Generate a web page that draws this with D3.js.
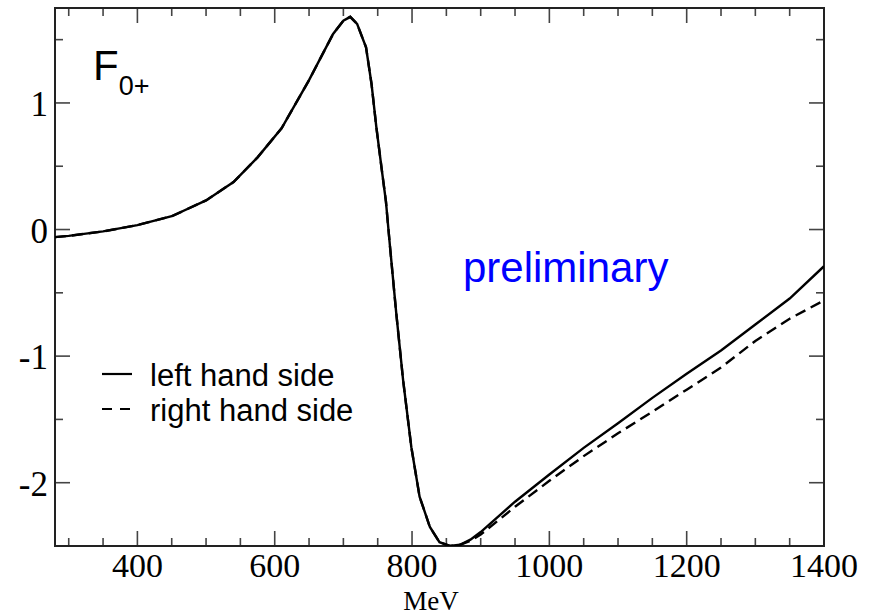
<!DOCTYPE html>
<html>
<head>
<meta charset="utf-8">
<script src="https://cdnjs.cloudflare.com/ajax/libs/d3/7.8.5/d3.min.js"></script>
<style>
    body { margin: 0; background: #fff; }
    svg { display: block; }
</style>
</head>
<body>
<div id="chart"></div>
<script>
// energies (MeV) where the curves are sampled
var energy = [280, 300, 350, 400, 450, 500, 540, 575, 610, 650, 685, 700, 710, 720, 733, 741, 748, 756, 762, 768,
    777, 787, 799, 811, 826, 840, 855, 870, 885, 900, 950, 1000, 1050, 1100, 1150, 1200, 1250, 1300, 1350, 1400];

// left hand side of the relation
var leftSide = [-0.06, -0.05, -0.015, 0.035, 0.105, 0.23, 0.375, 0.57, 0.8, 1.18, 1.545, 1.65, 1.68, 1.625, 1.44, 1.15, 0.81, 0.47, 0.22, -0.14,
    -0.66, -1.19, -1.72, -2.11, -2.35, -2.47, -2.5, -2.49, -2.45, -2.39, -2.15, -1.935, -1.725, -1.53, -1.33, -1.14, -0.955, -0.75, -0.545, -0.29];

// right hand side of the relation
var rightSide = [-0.06, -0.05, -0.015, 0.035, 0.105, 0.23, 0.375, 0.57, 0.8, 1.18, 1.545, 1.65, 1.68, 1.625, 1.44, 1.15, 0.81, 0.47, 0.22, -0.14,
    -0.66, -1.19, -1.72, -2.11, -2.35, -2.47, -2.5, -2.49, -2.46, -2.41, -2.19, -1.985, -1.79, -1.61, -1.44, -1.265, -1.09, -0.88, -0.705, -0.56];

var xTicks = [400, 600, 800, 1000, 1200, 1400];
var yTicks = [-2, -1, 0, 1];
var legendLabels = ["left hand side", "right hand side"];

///////////////////////////////////////////////////////////////////////////
//////////////////////////// Set up the svg ///////////////////////////////
///////////////////////////////////////////////////////////////////////////

var margin = {top: 8, right: 53, bottom: 70, left: 55};
var width = 877 - margin.left - margin.right,
    height = 616 - margin.top - margin.bottom;

var svg = d3.select("#chart")
    .append("svg")
    .attr("width", 877)
    .attr("height", 616)
    .append("g")
    .attr("transform", "translate(" + margin.left + "," + margin.top + ")");

var x = d3.scaleLinear().domain([280, 1400]).range([0, width]);
var y = d3.scaleLinear().domain([-2.5, 1.75]).range([height, 0]);

svg.append("defs").append("clipPath")
    .attr("id", "plotClip")
    .append("rect")
    .attr("width", width)
    .attr("height", height);

///////////////////////////////////////////////////////////////////////////
///////////////////////////////// Axes ////////////////////////////////////
///////////////////////////////////////////////////////////////////////////

var xMinor = d3.range(300, 1400, 50).filter(function(d) { return d % 200 !== 0; });
var yMinor = [-2.5, -1.5, -0.5, 0.5, 1.5];

function tickLines(g, vals, len, horizontal, side) {
    g.selectAll(null)
        .data(vals)
        .enter().append("line")
        .attr("x1", function(d) { return horizontal ? x(d) : (side ? width : 0); })
        .attr("x2", function(d) { return horizontal ? x(d) : (side ? width - len : len); })
        .attr("y1", function(d) { return horizontal ? (side ? 0 : height) : y(d); })
        .attr("y2", function(d) { return horizontal ? (side ? len : height - len) : y(d); })
        .attr("stroke", "#444")
        .attr("stroke-width", 1.6);
}

var ticks = svg.append("g");
//bottom + top
tickLines(ticks, xTicks, 15, true, false);
tickLines(ticks, xMinor, 8, true, false);
tickLines(ticks, xTicks, 15, true, true);
tickLines(ticks, xMinor, 8, true, true);
//left + right
tickLines(ticks, yTicks, 15, false, false);
tickLines(ticks, yMinor, 8, false, false);
tickLines(ticks, yTicks, 15, false, true);
tickLines(ticks, yMinor, 8, false, true);

//frame
svg.append("rect")
    .attr("width", width)
    .attr("height", height)
    .attr("fill", "none")
    .attr("stroke", "#222")
    .attr("stroke-width", 2);

svg.selectAll(".xlabel")
    .data(xTicks)
    .enter().append("text")
    .attr("class", "xlabel")
    .attr("x", function(d) { return x(d); })
    .attr("y", height + 31)
    .attr("text-anchor", "middle")
    .style("font-family", "'Liberation Serif', 'Times New Roman', serif")
    .style("font-size", "34px")
    .text(function(d) { return d; });

svg.selectAll(".ylabel")
    .data(yTicks)
    .enter().append("text")
    .attr("class", "ylabel")
    .attr("x", -7)
    .attr("y", function(d) { return y(d) + 13; })
    .attr("text-anchor", "end")
    .style("font-family", "'Liberation Serif', 'Times New Roman', serif")
    .style("font-size", "35px")
    .text(function(d) { return d; });

//axis title squeezed between tick labels and bottom edge
svg.append("text")
    .attr("x", 376)
    .attr("y", height + 64)
    .attr("text-anchor", "middle")
    .style("font-family", "'Liberation Serif', 'Times New Roman', serif")
    .style("font-size", "27px")
    .text("MeV");

///////////////////////////////////////////////////////////////////////////
//////////////////////////////// Curves ///////////////////////////////////
///////////////////////////////////////////////////////////////////////////

var line = d3.line()
    .x(function(d) { return x(d[0]); })
    .y(function(d) { return y(d[1]); });

var curves = svg.append("g").attr("clip-path", "url(#plotClip)");

curves.append("path")
    .datum(d3.zip(energy, rightSide))
    .attr("d", line)
    .attr("fill", "none")
    .attr("stroke", "#000")
    .attr("stroke-width", 2.4)
    .attr("stroke-dasharray", "11,6");

curves.append("path")
    .datum(d3.zip(energy, leftSide))
    .attr("d", line)
    .attr("fill", "none")
    .attr("stroke", "#000")
    .attr("stroke-width", 2.4);

///////////////////////////////////////////////////////////////////////////
//////////////////////////// Labels & legend //////////////////////////////
///////////////////////////////////////////////////////////////////////////

var fLabel = svg.append("text")
    .attr("x", 38)
    .attr("y", 72)
    .style("font-family", "'Liberation Sans', Arial, sans-serif")
    .style("font-size", "42px");
fLabel.append("tspan").text("F");
fLabel.append("tspan")
    .attr("dy", 15)
    .style("font-size", "27px")
    .text("0+");

svg.append("text")
    .attr("x", 408)
    .attr("y", 274)
    .attr("fill", "#0000ff")
    .style("font-family", "'Liberation Sans', Arial, sans-serif")
    .style("font-size", "42px")
    .text("preliminary");

var legend = svg.selectAll(".legend")
    .data(legendLabels)
    .enter().append("g")
    .attr("class", "legend")
    .attr("transform", function(d, i) { return "translate(47," + (378 + i * 35) + ")"; });

legend.append("line")
    .attr("x1", 0)
    .attr("x2", 30)
    .attr("y1", -12)
    .attr("y2", -12)
    .attr("stroke", "#000")
    .attr("stroke-width", 2.2)
    .attr("stroke-dasharray", function(d, i) { return i ? "10,8" : null; });

legend.append("text")
    .attr("x", 48)
    .attr("y", 0)
    .style("font-family", "'Liberation Sans', Arial, sans-serif")
    .style("font-size", "31px")
    .text(function(d) { return d; });
</script>
</body>
</html>
